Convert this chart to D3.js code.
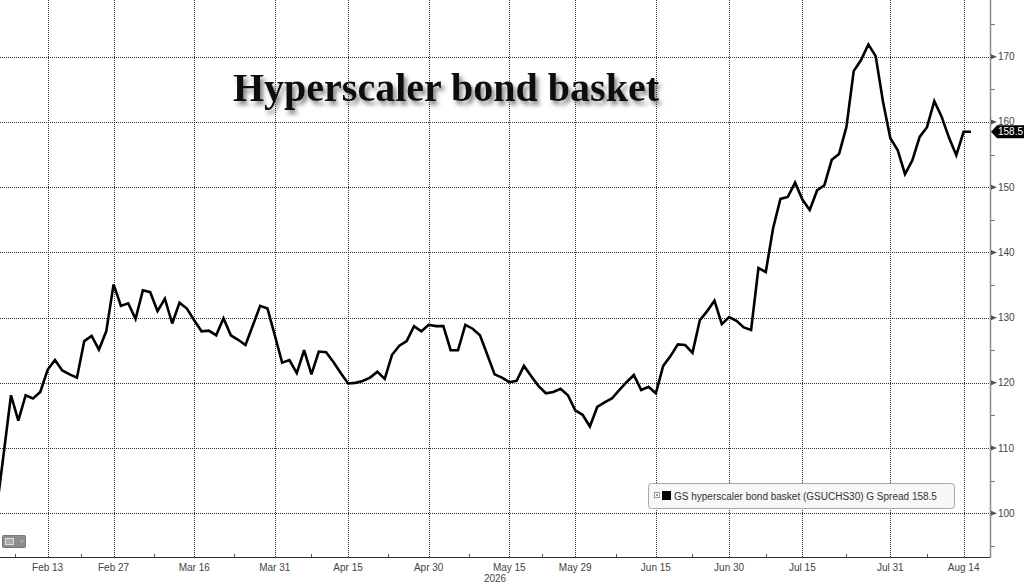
<!DOCTYPE html>
<html><head><meta charset="utf-8">
<script src="https://cdn.jsdelivr.net/npm/d3@7"></script>
<style>body{margin:0;background:#fff;}svg{display:block;}</style>
</head><body><svg id="c" width="1024" height="584"></svg>
<script>
// ---- data ----
const firstDate = "2026-02-04";
const holidays = ["2026-02-16","2026-04-03","2026-05-25","2026-06-19","2026-07-03"];
const spreadValues = [
  100.3,109.1,118.1,114.2,118.1,117.6,118.6,122.0,123.5,121.9,
  121.3,120.8,126.4,127.2,125.1,127.9,135.1,131.8,132.2,129.8,
  134.2,133.9,131.0,132.9,129.1,132.3,131.4,129.6,127.9,128.0,
  127.3,129.9,127.3,126.6,125.8,128.8,131.8,131.4,127.3,123.1,
  123.5,121.5,125.0,121.3,124.8,124.7,123.2,121.5,119.9,120.0,
  120.3,120.8,121.7,120.6,124.3,125.7,126.4,128.7,127.9,128.9,
  128.7,128.7,125.0,125.0,128.9,128.3,127.3,124.3,121.3,120.8,
  120.1,120.3,122.6,121.0,119.5,118.4,118.6,119.1,118.1,115.8,
  115.1,113.3,116.3,117.0,117.6,118.9,120.1,121.2,118.9,119.4,
  118.4,122.6,124.1,125.9,125.8,124.6,129.6,131.0,132.6,129.0,
  130.1,129.5,128.5,128.1,137.6,137.0,143.7,148.2,148.5,150.7,
  148.1,146.5,149.5,150.3,154.2,155.1,159.2,167.8,169.5,171.9,
  170.1,163.1,157.5,155.7,152.0,154.1,157.7,159.2,163.2,160.8,
  157.6,154.9,158.5,158.5
];
const xTickDates = ["2026-02-13","2026-02-27","2026-03-16","2026-03-31","2026-04-15","2026-04-30",
  "2026-05-15","2026-05-29","2026-06-15","2026-06-30","2026-07-15","2026-07-31","2026-08-14"];
const xTickLabels = ["Feb 13","Feb 27","Mar 16","Mar 31","Apr 15","Apr 30","May 15","May 29",
  "Jun 15","Jun 30","Jul 15","Jul 31","Aug 14"];
const yearLabel = "2026";
const yTicks = [100,110,120,130,140,150,160,170];
const yMinorTicks = [95,105,115,125,135,145,155,165,175];
const titleText = "Hyperscaler bond basket";
const legendText = "GS hyperscaler bond basket (GSUCHS30) G Spread 158.5";
const lastLabel = "158.5";

// ---- trading-day calendar ----
const fmt = d3.utcFormat("%Y-%m-%d");
const dates = [];
{
  let d = new Date(firstDate + "T00:00:00Z");
  while (dates.length < spreadValues.length) {
    const wd = d.getUTCDay();
    if (wd !== 0 && wd !== 6 && !holidays.includes(fmt(d))) dates.push(fmt(d));
    d = d3.utcDay.offset(d, 1);
  }
}
const data = spreadValues.map((v, i) => ({date: dates[i], i, v}));
const tickIdx = xTickDates.map(t => dates.indexOf(t));

// ---- layout ----
const W = 990, H = 557;
const svg = d3.select("#c");
const x = d3.scaleLinear().domain([0.5, 135.6]).range([0, W]);
const y = d3.scaleLinear().domain([93.3, 178.7]).range([H, 0]);
const font = "'Liberation Sans', Arial, sans-serif";

const defs = svg.append("defs");
defs.append("clipPath").attr("id", "clip").append("rect").attr("width", W).attr("height", H);
const f = defs.append("filter").attr("id", "shadow").attr("x", "-5%").attr("y", "-20%").attr("width", "115%").attr("height", "160%");
f.append("feDropShadow").attr("dx", 3).attr("dy", 4).attr("stdDeviation", 2)
  .attr("flood-color", "#444").attr("flood-opacity", 0.65);

// grid
const grid = svg.append("g").attr("stroke", "#333").attr("stroke-width", 1).attr("stroke-dasharray", "1,1");
grid.selectAll(".hg").data(yTicks).join("line")
  .attr("x1", 0).attr("x2", W)
  .attr("y1", d => Math.round(y(d)) + 0.5).attr("y2", d => Math.round(y(d)) + 0.5);
grid.selectAll(".vg").data(tickIdx).join("line")
  .attr("y1", 0).attr("y2", H)
  .attr("x1", d => Math.round(x(d)) + 0.5).attr("x2", d => Math.round(x(d)) + 0.5);

// title
svg.append("text").attr("x", 233).attr("y", 101)
  .attr("font-family", "'Liberation Serif','Times New Roman',serif").attr("font-weight", "bold")
  .attr("font-size", 40).attr("fill", "#111").attr("filter", "url(#shadow)")
  .text(titleText);

// axes
svg.append("line").attr("x1", 0).attr("x2", W + 1).attr("y1", H + 0.5).attr("y2", H + 0.5)
  .attr("stroke", "#333").attr("stroke-width", 1.2);
svg.append("line").attr("x1", W + 0.5).attr("x2", W + 0.5).attr("y1", 0).attr("y2", H + 1)
  .attr("stroke", "#8c8c8c").attr("stroke-width", 1.5);

// x minor ticks (midpoints between labelled ticks)
const minorX = [tickIdx[0] - (tickIdx[1] - tickIdx[0]) / 2];
for (let k = 1; k < tickIdx.length; k++) minorX.push((tickIdx[k - 1] + tickIdx[k]) / 2);
svg.append("g").selectAll("line").data(minorX).join("line")
  .attr("x1", d => Math.round(x(d)) + 0.5).attr("x2", d => Math.round(x(d)) + 0.5)
  .attr("y1", H - 3).attr("y2", H).attr("stroke", "#555");

// x labels
svg.append("g").selectAll("text").data(tickIdx).join("text")
  .attr("x", d => x(d)).attr("y", 571).attr("text-anchor", "middle")
  .attr("font-family", font).attr("font-size", 10).attr("fill", "#444")
  .text((d, k) => xTickLabels[k]);
svg.append("text").attr("x", W / 2).attr("y", 582).attr("text-anchor", "middle")
  .attr("font-family", font).attr("font-size", 10).attr("fill", "#444").text(yearLabel);

// y ticks
const ya = svg.append("g");
ya.selectAll("path").data(yTicks).join("path")
  .attr("d", d => `M${W + 1},${y(d) - 2.5}L${W + 7},${y(d)}L${W + 1},${y(d) + 2.5}Z`)
  .attr("fill", "#555");
ya.selectAll(".mn").data(yMinorTicks).join("line")
  .attr("x1", W + 1).attr("x2", W + 5).attr("y1", d => Math.round(y(d)) + 0.5).attr("y2", d => Math.round(y(d)) + 0.5)
  .attr("stroke", "#777");
ya.selectAll("text").data(yTicks).join("text")
  .attr("x", W + 8).attr("y", d => y(d)).attr("dy", "0.35em")
  .attr("font-family", font).attr("font-size", 10).attr("fill", "#444")
  .text(d => d);

// line
svg.append("path").datum(data).attr("clip-path", "url(#clip)")
  .attr("fill", "none").attr("stroke", "#000").attr("stroke-width", 2.6)
  .attr("stroke-linejoin", "miter").attr("stroke-miterlimit", 3)
  .attr("d", d3.line().x(d => x(d.i)).y(d => y(d.v)));

// last value tag
const last = spreadValues[spreadValues.length - 1];
const ly = y(last);
svg.append("path")
  .attr("d", `M${W + 1},${ly}L${W + 7},${ly - 6.5}L1024,${ly - 6.5}L1024,${ly + 6.5}L${W + 7},${ly + 6.5}Z`)
  .attr("fill", "#000");
svg.append("text").attr("x", W + 8).attr("y", ly).attr("dy", "0.36em")
  .attr("font-family", font).attr("font-size", 10).attr("fill", "#fff").text(lastLabel);

// legend
const lg = svg.append("g");
lg.append("rect").attr("x", 648.5).attr("y", 483.5).attr("width", 306).attr("height", 25).attr("rx", 3)
  .attr("fill", "#f7f7f7").attr("stroke", "#a8a8a8");
lg.append("rect").attr("x", 654.5).attr("y", 492.5).attr("width", 5).attr("height", 5)
  .attr("fill", "#fff").attr("stroke", "#999");
lg.append("rect").attr("x", 656).attr("y", 494).attr("width", 2).attr("height", 2).attr("fill", "#999");
lg.append("rect").attr("x", 662).attr("y", 491).attr("width", 9).attr("height", 9).attr("fill", "#000");
lg.append("text").attr("x", 674).attr("y", 496).attr("dy", "0.35em")
  .attr("font-family", font).attr("font-size", 10).attr("fill", "#333").text(legendText);

// small corner icon
const ic = svg.append("g");
ic.append("rect").attr("x", 2.5).attr("y", 535.5).attr("width", 23).attr("height", 12).attr("rx", 1)
  .attr("fill", "#8d8d8d").attr("stroke", "#777");
ic.append("rect").attr("x", 5.5).attr("y", 538.5).attr("width", 8).attr("height", 6)
  .attr("fill", "#aaa").attr("stroke", "#ddd");
ic.append("path").attr("d", "M20,540.5L24,540.5L22,543Z").attr("fill", "#bbb");
</script></body></html>
